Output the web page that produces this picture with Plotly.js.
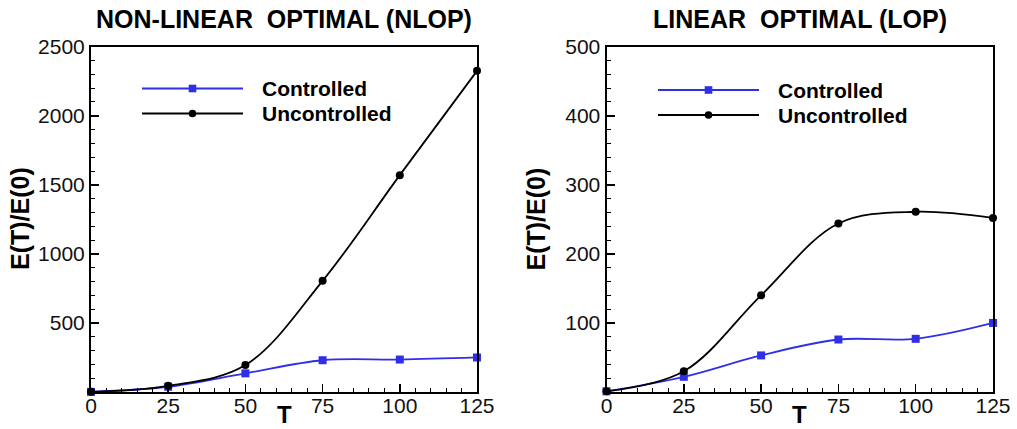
<!DOCTYPE html>
<html><head><meta charset="utf-8">
<script src="https://cdn.plot.ly/plotly-3.0.1.min.js"></script>
<style>html,body{margin:0;padding:0;background:#fff}#chart{width:1017px;height:429px}</style>
</head><body><div id="chart"></div>
<script>
// ---- data ----
const T = [0, 25, 50, 75, 100, 125];
const nlopControlled   = [1, 38, 135, 230, 235, 250];
const nlopUncontrolled = [1, 45, 195, 805, 1570, 2325];
const lopControlled    = [1, 22, 53, 76, 77, 100];
const lopUncontrolled  = [1, 30, 140, 244, 261, 252];
const seriesNames = ['Controlled', 'Uncontrolled'];
const panelTitles = ['NON-LINEAR  OPTIMAL (NLOP)', 'LINEAR  OPTIMAL (LOP)'];
const xTickStep = 25, xMinorStep = 5;
const nlopYStep = 500, nlopYMinor = 100, nlopYMax = 2500;
const lopYStep = 100, lopYMinor = 20, lopYMax = 500;
const yTitle = 'E(T)/E(0)';
const xTitle = 'T';

// ---- styling ----
const W = 1017, H = 429;
const px = v => v / W, py = v => 1 - v / H;
const BLUE = '#2f2fe8', BLACK = '#000000';
const FONT = 'Liberation Sans, Arial, Helvetica, sans-serif';
const colors = [BLUE, BLACK];
const symbols = ['square', 'circle'];

function tr(y, i, xa, ya) {
  return {
    x: T, y: y, name: seriesNames[i], xaxis: xa, yaxis: ya, type: 'scatter',
    mode: 'lines+markers', cliponaxis: false, showlegend: false,
    line: {color: colors[i], width: 1.8, shape: 'spline', smoothing: 1},
    marker: {symbol: symbols[i], size: 8, color: colors[i]}
  };
}
const data = [
  tr(nlopControlled, 0, 'x', 'y'),
  tr(nlopUncontrolled, 1, 'x', 'y'),
  tr(lopControlled, 0, 'x2', 'y2'),
  tr(lopUncontrolled, 1, 'x2', 'y2')
];

function axisBase(dom, anchor, max, step, minorStep) {
  return {
    domain: dom, anchor: anchor, range: [0, max], tickmode: 'linear', tick0: 0, dtick: step,
    ticks: 'inside', ticklen: 8, tickwidth: 1.5, tickcolor: '#000',
    showline: true, linecolor: '#000', linewidth: 2, mirror: true,
    showgrid: false, zeroline: false,
    tickfont: {family: FONT, size: 21, color: '#111'},
    minor: {tickmode: 'linear', tick0: 0, dtick: minorStep, ticks: 'inside', ticklen: 4, tickwidth: 1, tickcolor: '#000', showgrid: false}
  };
}
function xax(dom, anchor) {
  const a = axisBase(dom, anchor, 125, xTickStep, xMinorStep);
  a.ticklabelstandoff = -6;
  return a;
}
function yax(dom, anchor, max, step, minorStep) {
  const a = axisBase(dom, anchor, max, step, minorStep);
  a.labelalias = {'0': ''};
  return a;
}
const yDom = [py(392), py(46.7)];
const leftX = [px(91), px(477)], rightX = [px(606.5), px(993)];

const annotations = [];
const shapes = [];
function panelText(xl, xr, title, legendLineX0, legendY0) {
  const cx = (xl + xr) / 2;
  annotations.push({xref: 'paper', yref: 'paper', x: px(cx), y: py(19), text: title, showarrow: false,
    xanchor: 'center', yanchor: 'middle', font: {family: FONT, size: 25, color: '#000', weight: 'bold'}});
  annotations.push({xref: 'paper', yref: 'paper', x: px(cx), y: 0, text: xTitle, showarrow: false, borderpad: 0,
    xanchor: 'center', yanchor: 'bottom', font: {family: FONT, size: 24, color: '#000', weight: 'bold'}});
  annotations.push({xref: 'paper', yref: 'paper', x: px(xl - 71), y: py(219), text: yTitle, showarrow: false, textangle: -90,
    xanchor: 'center', yanchor: 'middle', font: {family: FONT, size: 25, color: '#000', weight: 'bold'}});
  for (let i = 0; i < 2; i++) {
    const ly = legendY0 + i * 25;
    shapes.push({type: 'line', xref: 'paper', yref: 'paper', x0: px(legendLineX0), x1: px(legendLineX0 + 101), y0: py(ly), y1: py(ly),
      line: {color: colors[i], width: 1.8}});
    const mx = legendLineX0 + 50.5, r = 3.8;
    shapes.push({type: symbols[i] === 'square' ? 'rect' : 'circle', xref: 'paper', yref: 'paper',
      x0: px(mx - r), x1: px(mx + r), y0: py(ly - r), y1: py(ly + r),
      fillcolor: colors[i], line: {color: colors[i], width: 0}});
    annotations.push({xref: 'paper', yref: 'paper', x: px(legendLineX0 + 118), y: py(ly), text: seriesNames[i], showarrow: false,
      xanchor: 'left', yanchor: 'middle', font: {family: FONT, size: 21, color: '#000', weight: 'bold'}});
  }
}
panelText(91, 477, panelTitles[0], 142, 88.5);
panelText(606.5, 993, panelTitles[1], 658, 90);

const layout = {
  width: W, height: H, margin: {l: 0, r: 0, t: 0, b: 0},
  paper_bgcolor: '#fff', plot_bgcolor: '#fff', showlegend: false,
  xaxis: xax(leftX, 'y'), yaxis: yax(yDom, 'x', nlopYMax, nlopYStep, nlopYMinor),
  xaxis2: xax(rightX, 'y2'), yaxis2: yax(yDom, 'x2', lopYMax, lopYStep, lopYMinor),
  annotations: annotations, shapes: shapes
};
Plotly.newPlot('chart', data, layout, {staticPlot: true});
</script></body></html>
